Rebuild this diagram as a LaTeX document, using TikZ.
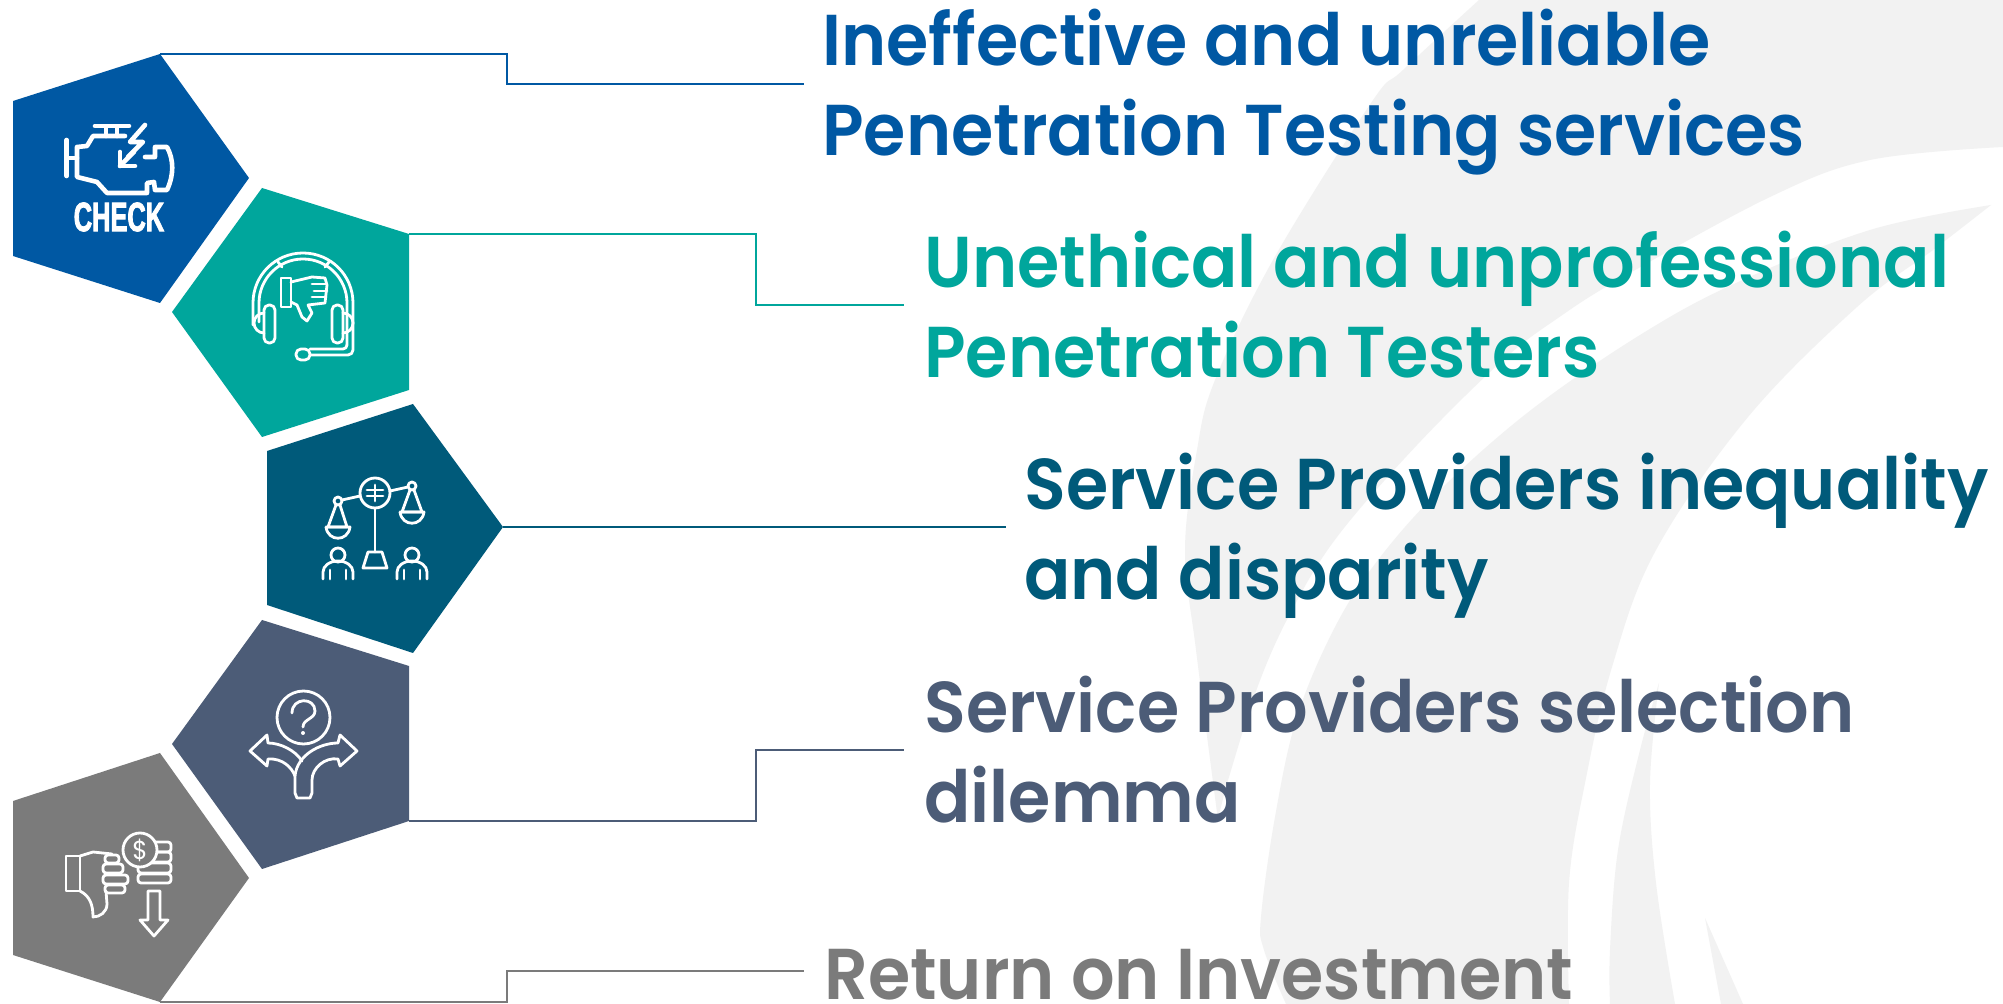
\documentclass[tikz,border=0pt]{standalone}
\usepackage{fontspec}
\setmainfont{Poppins}[BoldFont=Poppins SemiBold,FakeStretch=0.95]
\newfontfamily\checkfont[FakeStretch=0.62,BoldFeatures={FakeBold=2}]{Liberation Sans}
\definecolor{cblue}{HTML}{0058A3}
\definecolor{cteal}{HTML}{00A69C}
\definecolor{cdark}{HTML}{005A7A}
\definecolor{cslate}{HTML}{4C5C77}
\definecolor{cgray}{HTML}{7B7B7B}
\definecolor{cback}{HTML}{F2F2F2}
\tikzset{
  title/.style={anchor=base west,inner sep=0pt,align=left,font=\fontsize{36}{45.3}\selectfont\bfseries},
  link/.style={line width=1.2pt,line join=miter},
  icon/.style={draw=white,line width=1.4pt,line cap=round,line join=round},
  iconthick/.style={draw=white,line width=2.3pt,line cap=round,line join=round},
  smoothed/.style={smooth,tension=0.6}
}
\begin{document}
\begin{tikzpicture}[x=0.5pt,y=-0.5pt]
\path[use as bounding box] (0,0) rectangle (2003,1004);
\fill[white] (0,0) rectangle (2003,1004);
% background swooshes
\begin{scope}
\clip (0,0) rectangle (2003,1004);
\fill[cback] plot[smoothed] coordinates {(1479,0) (1403,70) (1371,103) (1273,260) (1215,380) (1197,450) (1185,550) (1196,650) (1218,820)}
  -- plot[smoothed] coordinates {(1218,820) (1229,777) (1259,683) (1292,610) (1337,537) (1417,445) (1503,360) (1558,318) (1623,277) (1770,197) (1870,160) (2003,147)}
  -- (2003,0) -- cycle;
\fill[cback] plot[smoothed] coordinates {(1991,205) (1870,230) (1736,283) (1640,335) (1531,410) (1440,490) (1378,560) (1335,627) (1297,717) (1275,817) (1261,917) (1264,950) (1286,1004)}
  -- plot[smoothed] coordinates {(1569,1004) (1569,883) (1585,783) (1612,667) (1656,550) (1748,417) (1857,307) (1933,250) (1991,205)} -- cycle;
\fill[cback] plot[smoothed] coordinates {(1659,683) (1640,750) (1618,850) (1610,950) (1610,1004)}
  -- plot[smoothed] coordinates {(1675,1004) (1656,883) (1650,783) (1659,683)} -- cycle;
\fill[cback] (1705,918) -- (1743,1004) -- (1721,1004) -- cycle;
\end{scope}

% pentagons
\coordinate (p1) at (160,54);
\coordinate (p2) at (409,234);
\coordinate (p3) at (503,527);
\coordinate (p4) at (409,821);
\coordinate (p5) at (160,1002);
\fill[cblue] (p1) -- (249,178) -- (160,303) -- (13,256) -- (13,101) -- cycle;
\fill[cteal] (262,188) -- (p2) -- (409,390) -- (262,437) -- (172,312) -- cycle;
\fill[cdark] (413,404) -- (p3) -- (413,653) -- (267,605) -- (267,451) -- cycle;
\fill[cslate] (262,620) -- (409,666) -- (p4) -- (262,869) -- (172,744) -- cycle;
\fill[cgray] (160,753) -- (249,878) -- (p5) -- (13,955) -- (13,801) -- cycle;

% text
\node[title,text=cblue] (t1) at (822,156) {Ineffective and unreliable\\Penetration Testing services};
\node[title,text=cteal] (t2) at (924,378) {Unethical and unprofessional\\Penetration Testers};
\node[title,text=cdark] (t3) at (1024,600) {Service Providers inequality\\and disparity};
\node[title,text=cslate] (t4) at (924,823) {Service Providers selection\\dilemma};
\node[title,text=cgray] (t5) at (824,999) {Return on Investment};

% connectors
\coordinate (e1) at (804,84);
\coordinate (e2) at (904,305);
\coordinate (e3) at (1006,527);
\coordinate (e4) at (904,750);
\coordinate (e5) at (804,971);
\draw[link,cblue] (p1) -- (507,54) -- (507,84) -- (e1);
\draw[link,cteal] (p2) -- (756,234) -- (756,305) -- (e2);
\draw[link,cdark] (p3) -- (e3);
\draw[link,cslate] (p4) -- (756,821) -- (756,750) -- (e4);
\draw[link,cgray] (p5) -- (507,1002) -- (507,971) -- (e5);

% engine icon
\begin{scope}[iconthick]
\draw (66.7,140) -- (66.7,176);
\draw (66.7,158) -- (77,158);
\draw (95,126) -- (129,126);
\draw (106,127) -- (106,136) (117,127) -- (117,136);
\draw (125,136) -- (93,136) -- (87,146) -- (77,147) -- (77,177) -- (97,182) -- (107,193) -- (147,193) -- (147,183) -- (154,182) -- (155,190) -- (167,190) .. controls (174,175) and (174,160) .. (167,147) -- (155,147) -- (155,157) -- (145,157);
\draw (145,125) -- (130,142) -- (143,142) -- (128,157);
\draw (120,152) -- (120,166) -- (135,166);
\draw (120,166) -- (134,152);
\end{scope}
\node[inner sep=0pt,text=white,font=\checkfont\fontsize{20.5}{20}\selectfont\bfseries] (chk) at (119,217) {CHECK};

% headset icon
\begin{scope}[icon]
\draw (253,325) -- (253,303) arc[start angle=180,end angle=360,radius=50] -- (353,350) arc[start angle=0,end angle=90,radius=5] -- (310,355);
\draw (259,322) -- (259,303) arc[start angle=180,end angle=360,radius=44] -- (347,345);
\draw (347,345) arc[start angle=0,end angle=90,radius=4] -- (310,349);
\draw (278,262) -- (282,267) (329,262) -- (325,267);
\draw[rounded corners=5pt/2] (264,305) rectangle (275,343);
\draw[rounded corners=5pt/2] (332,305) rectangle (343,343);
\draw (264,313) arc[start angle=270,end angle=90,radius=10];
\draw (343,313) arc[start angle=-90,end angle=90,radius=10];
\draw[rounded corners=5pt/2] (296,349) rectangle (310,360);
\draw (281,278) rectangle (291,307);
\draw (291,282) -- (312,277) -- (325,278) -- (327,285) -- (325,303) -- (308,305) -- (312,313) -- (307,321) -- (302,317) -- (297,305) -- (291,302);
\draw (312,284) -- (326,284) (314,291) -- (327,291) (312,297) -- (326,297);
\end{scope}

% scale icon
\begin{scope}[icon]
\draw (375,493) circle[radius=15];
\draw (367,490) -- (383,490) (367,496) -- (383,496) (375,485) -- (375,501);
\draw (375,508) -- (375,552);
\draw (368,552) -- (382,552) -- (387,568) -- (363,568) -- cycle;
\draw (342,500) -- (360,496) (390,491) -- (408,487);
\draw (338,501) circle[radius=4];
\draw (412,486) circle[radius=4];
\draw (336,505) -- (328,527) -- (347,527) -- (340,505);
\draw (326,527) .. controls (328,542) and (348,542) .. (350,527) -- (326,527);
\draw (410,490) -- (402,512) -- (422,512) -- (414,490);
\draw (400,512) .. controls (402,527) and (422,527) .. (424,512) -- (400,512);
\draw (338,555) circle[radius=7];
\draw (412,555) circle[radius=7];
\draw (323,579) -- (323,572) arc[start angle=180,end angle=360,x radius=15,y radius=11] -- (353,579);
\draw (330,579) -- (330,570) (346,579) -- (346,570);
\draw (397,579) -- (397,572) arc[start angle=180,end angle=360,x radius=15,y radius=11] -- (427,579);
\draw (404,579) -- (404,570) (420,579) -- (420,570);
\end{scope}

% question arrows icon
\begin{scope}[icon]
\draw (303.5,717.5) circle[radius=26.5];
\draw (292,713) .. controls (292,697) and (315,697) .. (315,711) .. controls (315,719) and (303,719) .. (303,727);
\fill[white] (303,733) circle[radius=2];
\draw (295,776) -- (295,793) -- (297,798) -- (310,798) -- (312,793) -- (312,780) .. controls (312,768) and (325,757) .. (338,759) -- (340,766) -- (357,751) -- (340,735) -- (338,743) .. controls (320,743) and (297,755) .. (295,776);
\draw (295,776) .. controls (292,768) and (283,758) .. (268,759) -- (267,766) -- (250,751) -- (267,735) -- (268,743) .. controls (280,743) and (295,750) .. (302,761);
\end{scope}

% money icon
\begin{scope}[icon]
\draw (66,856) rectangle (80,891);
\draw (80,856) -- (93,852) -- (112,854);
\draw (80,891) .. controls (90,896) and (93,905) .. (93,917) .. controls (100,917) and (107,912) .. (107,904) -- (106,891);
\draw[rounded corners=3pt/2] (105,855) rectangle (119,863);
\draw[rounded corners=3pt/2] (103,864) rectangle (123,873);
\draw[rounded corners=3pt/2] (103,875) rectangle (128,884);
\draw[rounded corners=3pt/2] (105,885) rectangle (125,893);
\draw[rounded corners=3pt/2] (138,842) rectangle (171,852);
\draw[rounded corners=3pt/2] (138,852) rectangle (171,862);
\draw[rounded corners=3pt/2] (138,863) rectangle (171,873);
\draw[rounded corners=3pt/2] (138,874) rectangle (171,883);
\draw[fill=cgray] (140,850) circle[radius=17];
\draw (148,891) -- (160,891) -- (160,920) -- (168,920) -- (154,936) -- (140,920) -- (148,920) -- cycle;
\end{scope}
\node[inner sep=0pt,text=white,font=\fontsize{13}{13}\selectfont] (dollar) at (140,850) {\$};
\end{tikzpicture}
\end{document}
